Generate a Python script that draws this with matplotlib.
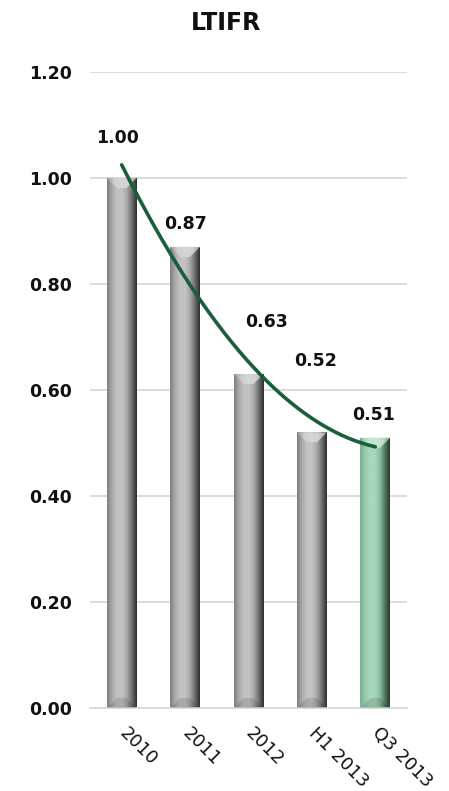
import numpy as np
import matplotlib
matplotlib.use("Agg")
import matplotlib.pyplot as plt
from matplotlib.patches import Polygon
from matplotlib.colors import LinearSegmentedColormap

# LTIFR per period
periods = ["2010", "2011", "2012", "H1 2013", "Q3 2013"]
ltifr = [1.00, 0.87, 0.63, 0.52, 0.51]
y_ticks = [0.00, 0.20, 0.40, 0.60, 0.80, 1.00, 1.20]

# where the value labels sit (x shift from bar centre, height in axis units)
label_pos = [(-0.06, 1.075), (0.0, 0.913), (0.29, 0.728), (0.05, 0.655), (-0.02, 0.553)]

grey_stops = ["#7c7c7c", "#a9a9a9", "#c2c2c2", "#c4c4c4", "#a8a8a8", "#6e6e6e", "#2c2c2c"]
green_stops = ["#78ad8d", "#95c9aa", "#a6d9bb", "#a6d8ba", "#8bbd9f", "#55775f", "#25352b"]
grey_top = ["#9a9a9a", "#cfcfcf", "#d6d6d6", "#d0d0d0", "#9a9a9a"]
green_top = ["#8dbf9f", "#bce4cc", "#c4e8d2", "#bce2ca", "#7fa68d"]

fig = plt.figure(figsize=(4.49, 7.91), dpi=100)
ax = fig.add_axes([0.2004, 0.1049, 0.7061, 0.8041])

x = np.arange(len(periods))
width = 0.47
bars = ax.bar(x, ltifr, width=width, color="none", zorder=2)

ax.set_xlim(-0.5, len(periods) - 0.5)
ax.set_ylim(0, 1.2)

bx = 0.16
by = 0.019
for i, (b, v) in enumerate(zip(bars, ltifr)):
    last = i == len(ltifr) - 1
    side = LinearSegmentedColormap.from_list("s", green_stops if last else grey_stops)
    top = LinearSegmentedColormap.from_list("t", green_top if last else grey_top)
    x0 = b.get_x()
    x1 = x0 + b.get_width()
    grad = np.linspace(0, 1, 256).reshape(1, -1)
    im = ax.imshow(grad, cmap=side, extent=(x0, x1, 0, v), aspect="auto",
                   zorder=2, interpolation="bilinear")
    im.set_clip_path(b)
    # bevelled cap
    cap = Polygon([(x0, v), (x1, v), (x1 - bx, v - by), (x0 + bx, v - by)],
                  closed=True, facecolor="none", edgecolor="none")
    ax.add_patch(cap)
    im2 = ax.imshow(grad, cmap=top, extent=(x0, x1, v - by, v), aspect="auto",
                    zorder=3, interpolation="bilinear")
    im2.set_clip_path(cap)
    # darker foot
    foot = Polygon([(x0, 0), (x1, 0), (x1 - bx, by), (x0 + bx, by)],
                   closed=True, facecolor="black", alpha=0.12, edgecolor="none",
                   zorder=3)
    ax.add_patch(foot)

# second order trendline
coef = np.polyfit(x, ltifr, 2)
xs = np.linspace(x[0], x[-1], 200)
ax.plot(xs, np.polyval(coef, xs), color="#1b5e3b", lw=2.6,
        solid_capstyle="round", zorder=4)

for i, v in enumerate(ltifr):
    dx, ly = label_pos[i]
    ax.text(x[i] + dx, ly, f"{v:.2f}", ha="center", va="center",
            fontsize=12.5, fontweight="bold", color="#111111", zorder=5)

ax.set_yticks(y_ticks)
ax.set_yticklabels([f"{t:.2f}" for t in y_ticks], fontsize=12.5,
                   fontweight="bold", color="#111111")
ax.yaxis.grid(True, color="#d9d9d9", lw=1.3, zorder=0)
ax.set_axisbelow(True)
ax.tick_params(axis="y", length=0, pad=13)

ax.set_xticks(x)
ax.set_xticklabels(periods, fontsize=13, color="#111111")
ax.tick_params(axis="x", length=0, pad=16)
for lab in ax.get_xticklabels():
    lab.set_rotation(-45)
    lab.set_ha("left")
    lab.set_va("center")
    lab.set_rotation_mode("anchor")

for s in ["top", "right", "left"]:
    ax.spines[s].set_visible(False)
ax.spines["bottom"].set_color("#d9d9d9")
ax.spines["bottom"].set_linewidth(1.3)

fig.text(0.503, 0.971, "LTIFR", ha="center", va="center",
         fontsize=17, fontweight="bold", color="#111111")

fig.savefig("out.png", dpi=100)
